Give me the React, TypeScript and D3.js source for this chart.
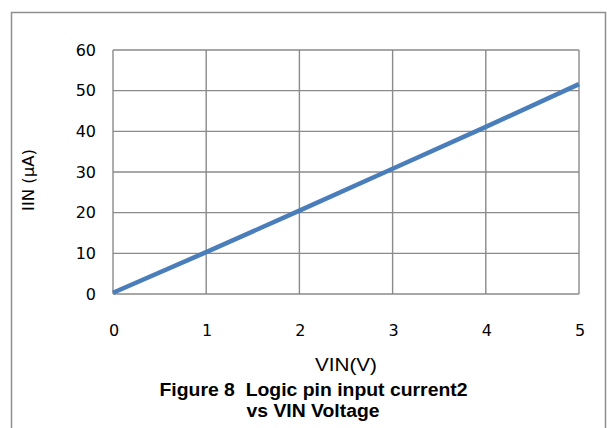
import React from "react";
import * as d3 from "d3";

const vin = [0, 1, 2, 3, 4, 5];
const iin = [0.3, 10.3, 20.5, 30.8, 41.1, 51.6];
const xTicks = [0, 1, 2, 3, 4, 5];
const yTicks = [0, 10, 20, 30, 40, 50, 60];
const xLabel = "VIN(V)";
const yLabel = "IIN (μA)";
const titleLines = ["Figure 8  Logic pin input current2", "vs VIN Voltage"];

export default function App() {
  const W = 607, H = 428;
  const left = 113, right = 579, top = 50, bottom = 294;
  const x = d3.scaleLinear().domain([0, 5]).range([left, right]);
  const y = d3.scaleLinear().domain([0, 60]).range([bottom, top]);
  const line = d3.line<number>().x((_, i) => x(vin[i])).y((d) => y(d));
  const grid = "#8a8a8a";
  return (
    <svg width={W} height={H} style={{ position: "absolute", left: 0, top: 0, background: "#fff" }}>
      <rect x={0} y={0} width={W} height={H} fill="#fff" />
      <path d={`M11.5,${H} V12.5 H605.5 V${H}`} fill="none" stroke="#8f8f8f" strokeWidth={1.5} />
      {yTicks.map((t) => (
        <line key={"h" + t} x1={left} x2={right} y1={y(t)} y2={y(t)} stroke={grid} strokeWidth={1.4} />
      ))}
      {xTicks.map((t) => (
        <line key={"v" + t} x1={x(t)} x2={x(t)} y1={top} y2={bottom} stroke={grid} strokeWidth={1.4} />
      ))}
      {yTicks.map((t) => (
        <text key={"yl" + t} x={96} y={y(t)} dy="0.36em" textAnchor="end" fontFamily="DejaVu Sans" fontSize={16} fill="#000">
          {t}
        </text>
      ))}
      {xTicks.map((t) => (
        <text key={"xl" + t} x={x(t) + 1} y={336} textAnchor="middle" fontFamily="DejaVu Sans" fontSize={16} fill="#000">
          {t}
        </text>
      ))}
      <path d={line(iin) || ""} fill="none" stroke="#4a7ebb" strokeWidth={4.5} strokeLinecap="butt" />
      <text x={346} y={371} textAnchor="middle" fontFamily="Liberation Sans" fontSize={19} fill="#000" textLength={62} lengthAdjust="spacingAndGlyphs">
        {xLabel}
      </text>
      <text transform="translate(34,180) rotate(-90)" textAnchor="middle" fontFamily="DejaVu Sans" fontSize={16.5} fill="#000">
        {yLabel}
      </text>
      <text x={313.5} y={396} textAnchor="middle" fontFamily="Liberation Sans" fontWeight="bold" fontSize={18} fill="#000" textLength={308} lengthAdjust="spacingAndGlyphs" style={{ whiteSpace: "pre" }}>
        {titleLines[0]}
      </text>
      <text x={313} y={417} textAnchor="middle" fontFamily="Liberation Sans" fontWeight="bold" fontSize={18} fill="#000" textLength={133} lengthAdjust="spacingAndGlyphs">
        {titleLines[1]}
      </text>
    </svg>
  );
}
